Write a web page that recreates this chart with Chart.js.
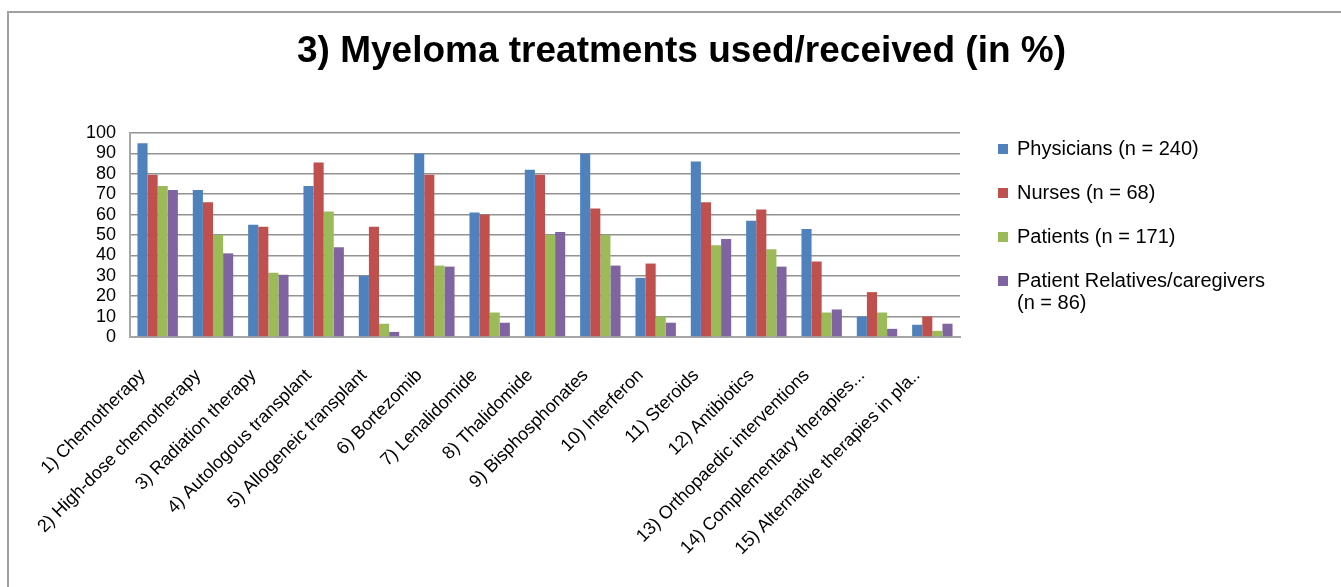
<!DOCTYPE html>
<html>
<head>
<meta charset="utf-8">
<title>Myeloma treatments used/received</title>
<script src="https://cdn.jsdelivr.net/npm/chart.js@4.4.1/dist/chart.umd.min.js"></script>
<style>
  html, body { margin: 0; padding: 0; background: #ffffff; }
  #wrap { width: 1341px; height: 587px; position: relative; }
</style>
</head>
<body>
<div id="wrap"><canvas id="chart" width="1341" height="587"></canvas></div>
<script>
// Treatment categories (x axis)
const categories = [
  '1) Chemotherapy',
  '2) High-dose chemotherapy',
  '3) Radiation therapy',
  '4) Autologous transplant',
  '5) Allogeneic transplant',
  '6) Bortezomib',
  '7) Lenalidomide',
  '8) Thalidomide',
  '9) Bisphosphonates',
  '10) Interferon',
  '11) Steroids',
  '12) Antibiotics',
  '13) Orthopaedic interventions',
  '14) Complementary therapies...',
  '15) Alternative therapies in pla..'
];

// Respondent groups; legend text split into display lines
const groupLabels = [
  ['Physicians (n = 240)'],
  ['Nurses (n = 68)'],
  ['Patients (n = 171)'],
  ['Patient Relatives/caregivers', '(n = 86)']
];

// Share of respondents (%) per treatment
const physicians = [95, 72, 55, 74, 30, 90, 61, 82, 90, 29, 86, 57, 53, 10, 6];
const nurses     = [79.5, 66, 54, 85.5, 54, 79.5, 60, 79.5, 63, 36, 66, 62.5, 37, 22, 10];
const patients   = [74, 50, 31.5, 61.5, 6.5, 35, 12, 50, 50, 10, 45, 43, 12, 12, 3];
const relatives  = [72, 41, 30.5, 44, 2.5, 34.5, 7, 51.5, 35, 7, 48, 34.5, 13.5, 4, 6.5];

// Value axis range
const yMin = 0;
const yMax = 100;
const yStep = 10;

const seriesValues = [physicians, nurses, patients, relatives];
const seriesColors = ['#4F81BD', '#C0504D', '#9BBB59', '#8064A2'];

const FONT = '"Liberation Sans", Arial, Helvetica, sans-serif';

// Outer frame of the chart panel (left and top edges)
const panelFrame = {
  id: 'panelFrame',
  beforeDraw(chart) {
    const ctx = chart.ctx;
    ctx.save();
    ctx.fillStyle = '#ffffff';
    ctx.fillRect(0, 0, chart.width, chart.height);
    ctx.strokeStyle = '#a0a0a0';
    ctx.lineWidth = 2;
    ctx.beginPath();
    ctx.moveTo(8, chart.height);
    ctx.lineTo(8, 12);
    ctx.lineTo(chart.width, 12);
    ctx.stroke();
    ctx.restore();
  }
};

// Legend block to the right of the plot, with wrapped entries
const sideLegend = {
  id: 'sideLegend',
  afterDraw(chart) {
    const ctx = chart.ctx;
    const area = chart.chartArea;
    const boxX = area.right + 38;
    const textX = boxX + 19;
    const rowGap = 44;
    const lineGap = 22;
    ctx.save();
    ctx.font = '20px ' + FONT;
    ctx.textBaseline = 'middle';
    ctx.textAlign = 'left';
    let y = area.top + 16;
    chart.data.datasets.forEach((ds, i) => {
      const lines = groupLabels[i];
      ctx.fillStyle = ds.backgroundColor;
      ctx.fillRect(boxX, y - 5, 10, 10);
      ctx.fillStyle = '#000000';
      lines.forEach((t, j) => ctx.fillText(t, textX, y + j * lineGap));
      y += rowGap;
    });
    ctx.restore();
  }
};

new Chart(document.getElementById('chart'), {
  type: 'bar',
  data: {
    labels: categories,
    datasets: seriesValues.map((vals, i) => ({
      label: groupLabels[i].join(' '),
      data: vals,
      backgroundColor: seriesColors[i],
      borderWidth: 0,
      categoryPercentage: 0.73,
      barPercentage: 1.0
    }))
  },
  options: {
    responsive: false,
    animation: false,
    devicePixelRatio: 1,
    layout: { padding: { left: 22, right: 0, top: 0, bottom: 0 } },
    plugins: {
      legend: { display: false },
      tooltip: { enabled: false },
      title: {
        display: true,
        text: '3) Myeloma treatments used/received (in %)',
        color: '#000000',
        font: { family: FONT, size: 37, weight: 'bold', lineHeight: 1.2 },
        padding: { top: 30, bottom: 58.6 }
      }
    },
    scales: {
      x: {
        grid: { display: false, drawTicks: false },
        border: { display: true, color: '#a6a6a6', width: 2 },
        ticks: {
          color: '#000000',
          font: { family: FONT, size: 18 },
          maxRotation: 45,
          minRotation: 45,
          autoSkip: false,
          labelOffset: -15,
          padding: 28
        },
        afterFit(scale) { scale.height = 250; }
      },
      y: {
        min: yMin,
        max: yMax,
        grid: { color: '#929292', lineWidth: 1.5, drawTicks: false },
        border: { display: true, color: '#a6a6a6', width: 2 },
        ticks: {
          stepSize: yStep,
          autoSkip: false,
          color: '#000000',
          font: { family: FONT, size: 18 },
          padding: 14
        },
        afterFit(scale) { scale.width = 108; }
      },
      side: {
        position: 'right',
        display: true,
        grid: { display: false, drawTicks: false },
        border: { display: false },
        ticks: { display: false },
        afterFit(scale) { scale.width = 381; }
      }
    }
  },
  plugins: [panelFrame, sideLegend]
});
</script>
</body>
</html>
